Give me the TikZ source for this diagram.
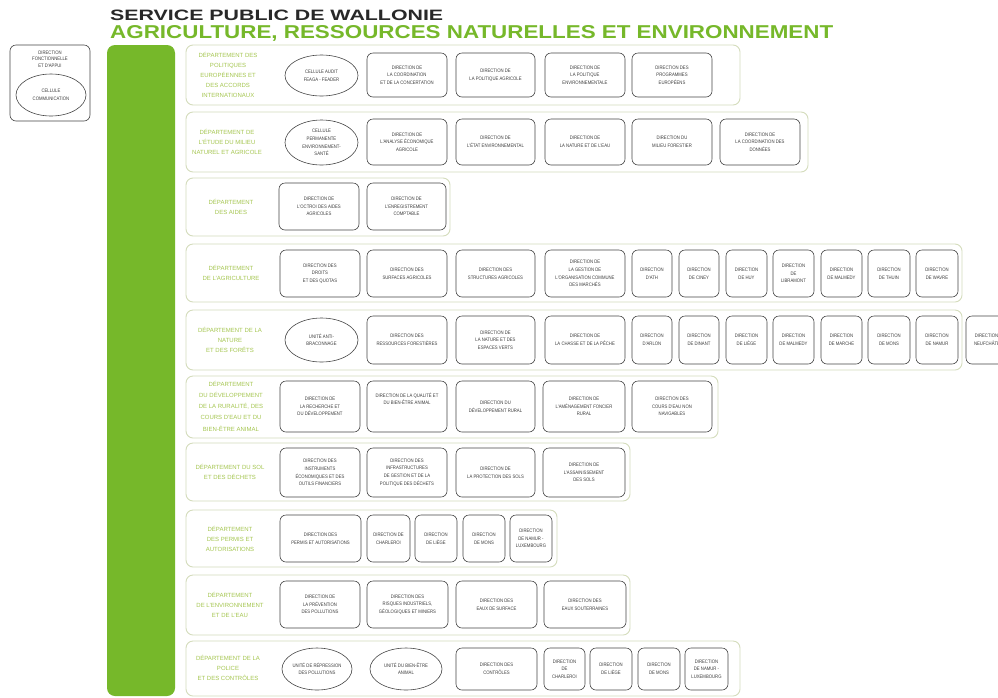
\documentclass[tikz,border=0pt]{standalone}
\usepackage{graphicx}
\usepackage{fontspec}
\setmainfont{Liberation Sans}
\newfontfamily\boxfont[FakeStretch=0.85]{Liberation Sans}
\usetikzlibrary{shapes.geometric}
\definecolor{spwgreen}{RGB}{118,184,42}
\definecolor{deptgreen}{RGB}{165,198,80}
\definecolor{framec}{RGB}{212,220,188}
\definecolor{boxc}{RGB}{70,70,70}
\definecolor{txtc}{RGB}{60,60,60}
\definecolor{titledark}{RGB}{40,40,40}
\tikzset{
  frame/.style={draw=framec, line width=0.9pt, rounded corners=7pt, inner sep=0pt},
  dirbox/.style={draw=boxc, line width=0.6pt, rounded corners=6pt, inner sep=0pt, fill=white,
    font=\boxfont\fontsize{5}{7.6}\selectfont, text=txtc, align=center},
  ell/.style={draw=boxc, ellipse, line width=0.6pt, inner sep=0pt, fill=white,
    font=\boxfont\fontsize{5}{7.6}\selectfont, text=txtc, align=center},
  dept/.style={font=\fontsize{6}{10}\selectfont, text=deptgreen, align=center, inner sep=0pt},
  plain/.style={font=\boxfont\fontsize{5}{6.6}\selectfont, text=txtc, align=center, inner sep=0pt},
}
\newcommand{\bx}[6]{\node[dirbox, minimum width={#3-#2}, minimum height={#5-#4}] (#1) at ({(#2+#3)/2},{(#4+#5)/2}) {#6};}
\newcommand{\el}[6]{\node[ell, minimum width={#3-#2}, minimum height={#5-#4}] (#1) at ({(#2+#3)/2},{(#4+#5)/2}) {#6};}
\newcommand{\fr}[5]{\node[frame, minimum width={#3-#2}, minimum height={#5-#4}] (#1) at ({(#2+#3)/2},{(#4+#5)/2}) {};}
\begin{document}
\begin{tikzpicture}[x=1pt,y=-1pt]
\useasboundingbox (0,0) rectangle (998,697);
\clip (0,0) rectangle (998,697);
\fill[white] (0,0) rectangle (998,697);

% titles
\node[anchor=base west, inner sep=0pt, text=titledark] (t1) at (110,20.5) {\resizebox{333pt}{10.5pt}{\bfseries SERVICE PUBLIC DE WALLONIE}};
\node[anchor=base west, inner sep=0pt, text=spwgreen] (t2) at (110,38) {\resizebox{723pt}{13pt}{\bfseries AGRICULTURE, RESSOURCES NATURELLES ET ENVIRONNEMENT}};

% left box
\bx{dfa}{10}{90}{45}{121}{}
\node[plain] (dfat) at (50,59) {DIRECTION\\FONCTIONNELLE\\ET D'APPUI};
\el{ccom}{16}{86}{74}{116}{CELLULE\\COMMUNICATION}

% green bar
\node[fill=spwgreen, rounded corners=8pt, minimum width=68, minimum height=651, inner sep=0pt] (bar) at (141,370.5) {};

% Row 1
\fr{f1}{186}{740}{45}{105}
\node[dept] (d1) at (228,75) {DÉPARTEMENT DES\\POLITIQUES\\EUROPÉENNES ET\\DES ACCORDS\\INTERNATIONAUX};
\el{r1e}{285}{358}{55}{96}{CELLULE AUDIT\\FEAGA - FEADER}
\bx{r1a}{367}{447}{53}{97}{DIRECTION DE\\LA COORDINATION\\ET DE LA CONCERTATION}
\bx{r1b}{456}{535}{53}{97}{DIRECTION DE\\LA POLITIQUE AGRICOLE}
\bx{r1c}{545}{625}{53}{97}{DIRECTION DE\\LA POLITIQUE\\ENVIRONNEMENTALE}
\bx{r1d}{632}{712}{53}{97}{DIRECTION DES\\PROGRAMMES\\EUROPÉENS}

% Row 2
\fr{f2}{186}{808}{112}{172}
\node[dept] (d2) at (227,142) {DÉPARTEMENT DE\\L'ÉTUDE DU MILIEU\\NATUREL ET AGRICOLE};
\el{r2e}{285}{358}{120}{165}{CELLULE\\PERMANENTE\\ENVIRONNEMENT-\\SANTÉ}
\bx{r2a}{367}{447}{119}{165}{DIRECTION DE\\L'ANALYSE ÉCONOMIQUE\\AGRICOLE}
\bx{r2b}{456}{535}{119}{165}{DIRECTION DE\\L'ÉTAT ENVIRONNEMENTAL}
\bx{r2c}{545}{625}{119}{165}{DIRECTION DE\\LA NATURE ET DE L'EAU}
\bx{r2d}{632}{712}{119}{165}{DIRECTION DU\\MILIEU FORESTIER}
\bx{r2f}{720}{800}{119}{165}{DIRECTION DE\\LA COORDINATION DES\\DONNÉES}

% Row 3
\fr{f3}{186}{450}{178}{236}
\node[dept] (d3) at (231,207) {DÉPARTEMENT\\DES AIDES};
\bx{r3a}{279}{359}{183}{230}{DIRECTION DE\\L'OCTROI DES AIDES\\AGRICOLES}
\bx{r3b}{367}{446}{183}{230}{DIRECTION DE\\L'ENREGISTREMENT\\COMPTABLE}

% Row 4
\fr{f4}{186}{962}{244}{302}
\node[dept] (d4) at (231,273) {DÉPARTEMENT\\DE L'AGRICULTURE};
\bx{r4a}{280}{360}{250}{297}{DIRECTION DES\\DROITS\\ET DES QUOTAS}
\bx{r4b}{367}{447}{250}{297}{DIRECTION DES\\SURFACES AGRICOLES}
\bx{r4c}{456}{535}{250}{297}{DIRECTION DES\\STRUCTURES AGRICOLES}
\bx{r4d}{545}{625}{250}{297}{DIRECTION DE\\LA GESTION DE\\L'ORGANISATION COMMUNE\\DES MARCHÉS}
\bx{r4e}{632}{672}{250}{297}{DIRECTION\\D'ATH}
\bx{r4f}{679}{719}{250}{297}{DIRECTION\\DE CINEY}
\bx{r4g}{726}{767}{250}{297}{DIRECTION\\DE HUY}
\bx{r4h}{773}{814}{250}{297}{DIRECTION\\DE\\LIBRAMONT}
\bx{r4i}{821}{862}{250}{297}{DIRECTION\\DE MALMEDY}
\bx{r4j}{868}{910}{250}{297}{DIRECTION\\DE THUIN}
\bx{r4k}{916}{958}{250}{297}{DIRECTION\\DE WAVRE}

% Row 5
\fr{f5}{186}{962}{310}{370}
\node[dept] (d5) at (230,340) {DÉPARTEMENT DE LA\\NATURE\\ET DES FORÊTS};
\el{r5e}{285}{358}{318}{362}{UNITÉ ANTI-\\BRACONNAGE}
\bx{r5a}{367}{447}{316}{364}{DIRECTION DES\\RESSOURCES FORESTIÈRES}
\bx{r5b}{456}{535}{316}{364}{DIRECTION DE\\LA NATURE ET DES\\ESPACES VERTS}
\bx{r5c}{545}{625}{316}{364}{DIRECTION DE\\LA CHASSE ET DE LA PÊCHE}
\bx{r5d}{632}{672}{316}{364}{DIRECTION\\D'ARLON}
\bx{r5f}{679}{719}{316}{364}{DIRECTION\\DE DINANT}
\bx{r5g}{726}{767}{316}{364}{DIRECTION\\DE LIÈGE}
\bx{r5h}{773}{814}{316}{364}{DIRECTION\\DE MALMEDY}
\bx{r5i}{821}{862}{316}{364}{DIRECTION\\DE MARCHE}
\bx{r5j}{868}{910}{316}{364}{DIRECTION\\DE MONS}
\bx{r5k}{916}{958}{316}{364}{DIRECTION\\DE NAMUR}
\bx{r5l}{966}{1014}{316}{364}{DIRECTION DE\\NEUFCHÂTEAU}

% Row 6
\fr{f6}{186}{718}{376}{438}
\node[dept, font=\fontsize{6}{11.2}\selectfont] (d6) at (231,406) {DÉPARTEMENT\\DU DÉVELOPPEMENT\\DE LA RURALITÉ, DES\\COURS D'EAU ET DU\\BIEN-ÊTRE ANIMAL};
\bx{r6a}{280}{360}{381}{432}{DIRECTION DE\\LA RECHERCHE ET\\DU DÉVELOPPEMENT}
\bx{r6b}{367}{447}{381}{432}{DIRECTION DE LA QUALITÉ ET\\DU BIEN-ÊTRE ANIMAL\\~\\~}
\bx{r6c}{456}{535}{381}{432}{DIRECTION DU\\DÉVELOPPEMENT RURAL}
\bx{r6d}{543}{625}{381}{432}{DIRECTION DE\\L'AMÉNAGEMENT FONCIER\\RURAL}
\bx{r6f}{632}{712}{381}{432}{DIRECTION DES\\COURS D'EAU NON\\NAVIGABLES}

% Row 7
\fr{f7}{186}{630}{443}{501}
\node[dept] (d7) at (230,472) {DÉPARTEMENT DU SOL\\ET DES DÉCHETS};
\bx{r7a}{280}{360}{448}{497}{DIRECTION DES\\INSTRUMENTS\\ÉCONOMIQUES ET DES\\OUTILS FINANCIERS}
\bx{r7b}{367}{447}{448}{497}{DIRECTION DES\\INFRASTRUCTURES\\DE GESTION ET DE LA\\POLITIQUE DES DÉCHETS}
\bx{r7c}{456}{535}{448}{497}{DIRECTION DE\\LA PROTECTION DES SOLS}
\bx{r7d}{543}{625}{448}{497}{DIRECTION DE\\L'ASSAINISSEMENT\\DES SOLS}

% Row 8
\fr{f8}{186}{557}{510}{567}
\node[dept] (d8) at (230,539) {DÉPARTEMENT\\DES PERMIS ET\\AUTORISATIONS};
\bx{r8a}{280}{361}{515}{562}{DIRECTION DES\\PERMIS ET AUTORISATIONS}
\bx{r8b}{367}{410}{515}{562}{DIRECTION DE\\CHARLEROI}
\bx{r8c}{415}{457}{515}{562}{DIRECTION\\DE LIÈGE}
\bx{r8d}{463}{505}{515}{562}{DIRECTION\\DE MONS}
\bx{r8e}{510}{552}{515}{562}{DIRECTION\\DE NAMUR -\\LUXEMBOURG}

% Row 9
\fr{f9}{186}{630}{575}{635}
\node[dept] (d9) at (230,605) {DÉPARTEMENT\\DE L'ENVIRONNEMENT\\ET DE L'EAU};
\bx{r9a}{280}{360}{581}{628}{DIRECTION DE\\LA PRÉVENTION\\DES POLLUTIONS}
\bx{r9b}{367}{448}{581}{628}{DIRECTION DES\\RISQUES INDUSTRIELS,\\GÉOLOGIQUES ET MINIERS}
\bx{r9c}{456}{537}{581}{628}{DIRECTION DES\\EAUX DE SURFACE}
\bx{r9d}{544}{626}{581}{628}{DIRECTION DES\\EAUX SOUTERRAINES}

% Row 10
\fr{f10}{186}{740}{641}{696}
\node[dept] (d10) at (228,668) {DÉPARTEMENT DE LA\\POLICE\\ET DES CONTRÔLES};
\el{r10e}{282}{352}{648}{690}{UNITÉ DE RÉPRESSION\\DES POLLUTIONS}
\el{r10f}{370}{442}{648}{690}{UNITÉ DU BIEN-ÊTRE\\ANIMAL}
\bx{r10a}{456}{537}{648}{690}{DIRECTION DES\\CONTRÔLES}
\bx{r10b}{544}{585}{648}{690}{DIRECTION\\DE\\CHARLEROI}
\bx{r10c}{590}{632}{648}{690}{DIRECTION\\DE LIÈGE}
\bx{r10d}{638}{680}{648}{690}{DIRECTION\\DE MONS}
\bx{r10g}{685}{728}{648}{690}{DIRECTION\\DE NAMUR -\\LUXEMBOURG}
\end{tikzpicture}
\end{document}
